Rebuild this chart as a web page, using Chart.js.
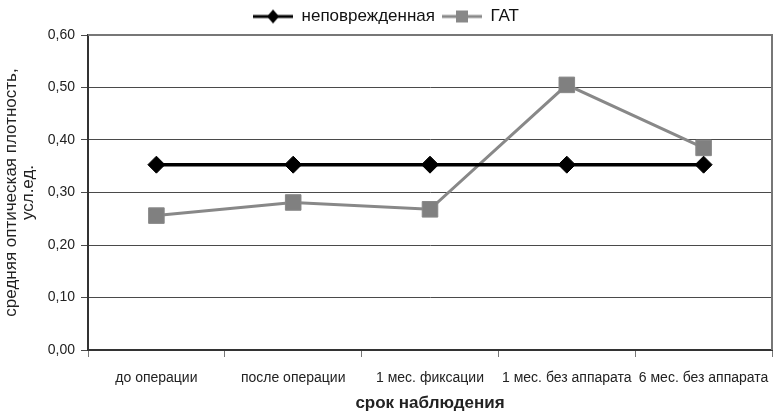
<!DOCTYPE html>
<html>
<head>
<meta charset="utf-8">
<script src="https://cdn.jsdelivr.net/npm/chart.js@4.4.0/dist/chart.umd.min.js"></script>
<style>
  html, body { margin: 0; padding: 0; background: #fff; }
  #wrap { width: 775px; height: 414px; }
</style>
</head>
<body>
<div id="wrap"><canvas id="chart" width="775" height="414"></canvas></div>
<script>
const categories = ['до операции', 'после операции', '1 мес. фиксации', '1 мес. без аппарата', '6 мес. без аппарата'];
const intactValues = [0.353, 0.353, 0.353, 0.353, 0.353];
const gatValues = [0.256, 0.281, 0.268, 0.505, 0.385];
const yTicks = [0, 0.1, 0.2, 0.3, 0.4, 0.5, 0.6];

const FONT = "'Liberation Sans', Arial, sans-serif";

// small canvas icon for legend: line with marker
function legendIcon(color, shape){
  const c = document.createElement('canvas');
  c.width = 40; c.height = 18;
  const g = c.getContext('2d');
  g.strokeStyle = color; g.lineWidth = 3;
  g.beginPath(); g.moveTo(0, 9); g.lineTo(40, 9); g.stroke();
  g.fillStyle = color;
  if(shape === 'diamond'){
    g.beginPath(); g.moveTo(20, 2); g.lineTo(26, 9); g.lineTo(20, 16); g.lineTo(14, 9); g.closePath(); g.fill();
  } else {
    g.fillRect(14, 3, 12, 12);
  }
  return c;
}

// frame on top and right of the plot area
const framePlugin = {
  id: 'frame',
  afterDraw(chart){
    const {ctx, chartArea: a} = chart;
    ctx.save();
    ctx.strokeStyle = '#777';
    ctx.lineWidth = 2;
    ctx.beginPath();
    ctx.moveTo(a.left, a.top);
    ctx.lineTo(a.right, a.top);
    ctx.lineTo(a.right, a.bottom);
    ctx.stroke();
    ctx.restore();
  }
};

new Chart(document.getElementById('chart').getContext('2d'), {
  type: 'line',
  data: {
    labels: categories,
    datasets: [
      {
        label: 'неповрежденная',
        data: intactValues,
        borderColor: '#000',
        backgroundColor: '#000',
        borderWidth: 3.5,
        pointStyle: 'rectRot',
        pointRadius: 8.5,
        pointHoverRadius: 8.5,
        pointBorderWidth: 1,
        tension: 0
      },
      {
        label: 'ГАТ',
        data: gatValues,
        borderColor: '#888',
        backgroundColor: '#808080',
        borderWidth: 3,
        pointStyle: 'rect',
        pointRadius: 11,
        pointHoverRadius: 11,
        pointBorderWidth: 1,
        tension: 0
      }
    ]
  },
  options: {
    responsive: false,
    animation: false,
    devicePixelRatio: 1,
    layout: { autoPadding: false, padding: { top: 1, right: 3, left: 0, bottom: 0 } },
    plugins: {
      legend: {
        position: 'top',
        labels: {
          font: { family: FONT, size: 17 },
          color: '#111',
          usePointStyle: true,
          pointStyleWidth: 40,
          boxHeight: 18,
          padding: 7,
          generateLabels(chart){
            return chart.data.datasets.map((ds, i) => ({
              text: ds.label,
              pointStyle: legendIcon(i === 0 ? '#000' : '#888', i === 0 ? 'diamond' : 'square'),
              fillStyle: ds.backgroundColor,
              strokeStyle: ds.borderColor,
              lineWidth: 0,
              hidden: false,
              datasetIndex: i,
              fontColor: '#111'
            }));
          }
        }
      },
      tooltip: { enabled: false }
    },
    scales: {
      x: {
        offset: true,
        grid: { display: true, drawOnChartArea: false, offset: true, color: '#777', tickLength: 7, lineWidth: 1 },
        border: { color: '#333', width: 2 },
        ticks: { font: { family: FONT, size: 14 }, color: '#222', padding: 13, maxRotation: 0, autoSkip: false },
        title: { display: true, text: 'срок наблюдения', font: { family: FONT, size: 17, weight: 'bold' }, color: '#222', padding: { top: 4, bottom: 0 } },
        afterFit(scale){ scale.height = 64; scale.paddingLeft = 0; scale.paddingRight = 0; }
      },
      y: {
        min: 0,
        max: 0.6,
        afterBuildTicks(scale){ scale.ticks = yTicks.map(v => ({ value: v })); },
        grid: { color: '#4a4a4a', tickLength: 7, lineWidth: 1 },
        border: { color: '#333', width: 2 },
        ticks: {
          font: { family: FONT, size: 14 },
          color: '#222',
          padding: 6,
          callback: v => v.toFixed(2).replace('.', ',')
        },
        title: {
          display: true,
          text: ['средняя оптическая плотность,', 'усл.ед.'],
          font: { family: FONT, size: 17, lineHeight: 1.05 },
          color: '#222',
          padding: { top: 2, bottom: 2 }
        },
        afterFit(scale){ scale.width = 88; scale.paddingTop = 0; scale.paddingBottom = 0; }
      }
    }
  },
  plugins: [framePlugin]
});
</script>
</body>
</html>
